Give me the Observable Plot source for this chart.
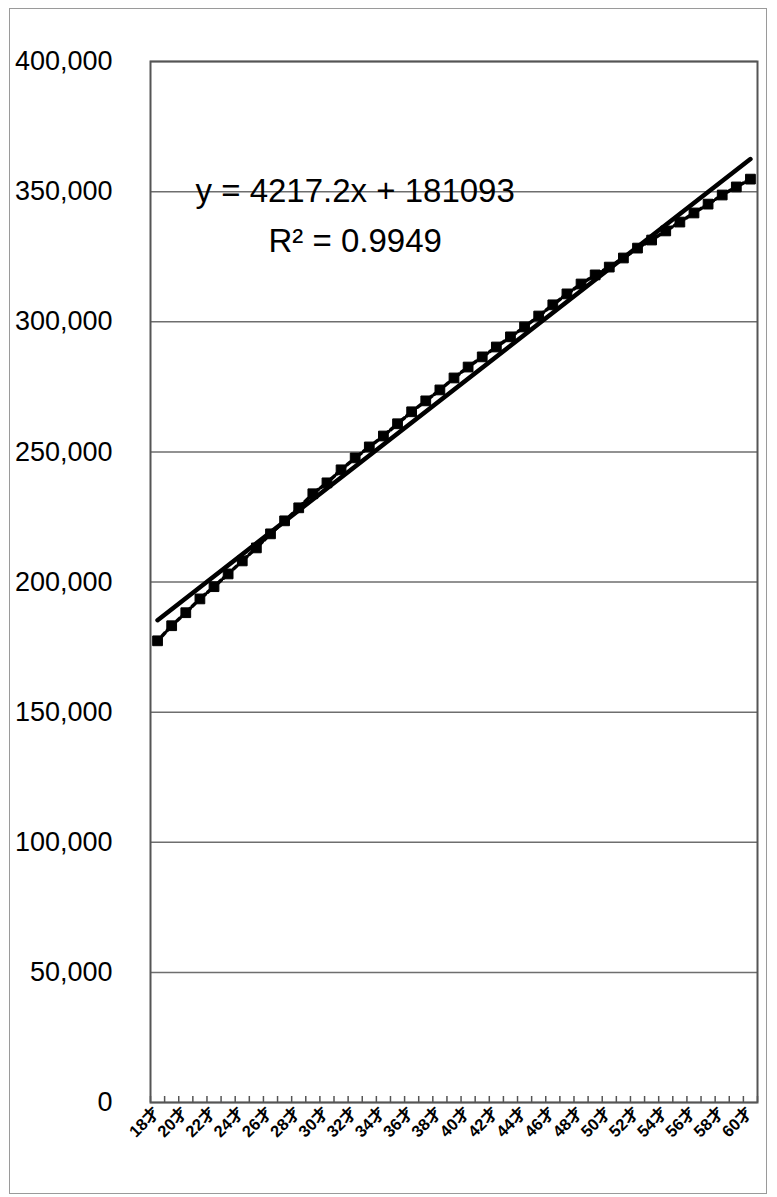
<!DOCTYPE html>
<html>
<head>
<meta charset="utf-8">
<script src="https://cdn.jsdelivr.net/npm/d3@7"></script>
<script src="https://cdn.jsdelivr.net/npm/@observablehq/plot@0.6"></script>
<style>
  html, body { margin: 0; padding: 0; background: #fff; }
  #wrap { position: relative; width: 777px; height: 1197px; overflow: hidden; }
  #border { position: absolute; left: 9px; top: 8px; width: 758px; height: 1186px; border: 1.5px solid #9a9a9a; box-sizing: border-box; pointer-events: none; }
  #chart { position: absolute; left: 0; top: 0; }
</style>
</head>
<body>
<div id="wrap"><div id="chart"></div><div id="border"></div></div>
<script>
// Categories (age in years)
const ages = [18,19,20,21,22,23,24,25,26,27,28,29,30,31,32,33,34,35,36,37,38,39,40,
              41,42,43,44,45,46,47,48,49,50,51,52,53,54,55,56,57,58,59,60];
// Series values (yen)
const values = [177400,183200,188200,193500,198200,203100,208100,213100,218500,223500,
                228500,233900,238100,243100,247700,251900,256100,260800,265400,269600,
                273800,278400,282600,286500,290300,294200,298000,302200,306500,310700,
                314500,318000,321000,324500,328300,331400,334900,338300,341800,345200,
                348700,351800,354800];
// Y tick values
const yTicks = [0,50000,100000,150000,200000,250000,300000,350000,400000];
// X tick labels: every second age
const labelAges = [18,20,22,24,26,28,30,32,34,36,38,40,42,44,46,48,50,52,54,56,58,60];
// Trend annotation
const trendText = ["y = 4217.2x + 181093", "R\u00B2 = 0.9949"];

const data = ages.map((a, i) => ({idx: i + 1, age: a, value: values[i]}));
const labelIdx = labelAges.map(a => ages.indexOf(a) + 1);
const boundaries = d3.range(0, ages.length + 1).map(i => i + 0.5);

const fontFam = "'Liberation Sans', Arial, 'Noto Sans CJK JP', sans-serif";

const chart = Plot.plot({
  width: 777,
  height: 1197,
  marginLeft: 150,
  marginRight: 20,
  marginTop: 61,
  marginBottom: 95,
  style: {fontFamily: fontFam, background: "#fff", color: "#000"},
  x: {domain: [0.5, ages.length + 0.5], axis: null, label: null},
  y: {domain: [0, 400000], axis: null, label: null},
  marks: [
    Plot.gridY(yTicks, {stroke: "#6e6e6e", strokeOpacity: 1, strokeWidth: 1.5}),
    // Y tick labels
    Plot.text(yTicks, {
      y: d => d, frameAnchor: "left", dx: -38, textAnchor: "end",
      text: d3.format(","), fontSize: 27, fill: "#000"
    }),
    // category boundary ticks (inside)
    Plot.axisX(boundaries, {
      label: null, anchor: "bottom", tickSize: 6, dy: -6, tickFormat: () => "", stroke: "#555", strokeWidth: 1.5
    }),
    // X tick labels
    Plot.text(labelIdx, {
      x: d => d, frameAnchor: "bottom", dy: 11, dx: 3, rotate: -45, textAnchor: "end",
      text: d => ages[d - 1] + "才", fontSize: 16.5, fontWeight: "bold", fill: "#000"
    }),
    Plot.frame({stroke: "#555", strokeWidth: 2}),
    Plot.linearRegressionY(data, {x: "idx", y: "value", ci: 0, stroke: "#000", strokeWidth: 4.5}),
    Plot.line(data, {x: "idx", y: "value", stroke: "#000", strokeWidth: 3.5, strokeDasharray: "4,3"}),
    Plot.dot(data, {x: "idx", y: "value", symbol: "square", r: 5.5, fill: "#000", stroke: "#000", strokeWidth: 1, strokeLinejoin: "round"}),
    Plot.text([trendText[0]], {x: [15.0], y: [350000], text: d => d, fontSize: 33, fill: "#000", textAnchor: "middle"}),
    Plot.text([trendText[1]], {x: [15.0], y: [331000], text: d => d, fontSize: 33, fill: "#000", textAnchor: "middle"})
  ]
});
document.getElementById("chart").appendChild(chart);
</script>
</body>
</html>
